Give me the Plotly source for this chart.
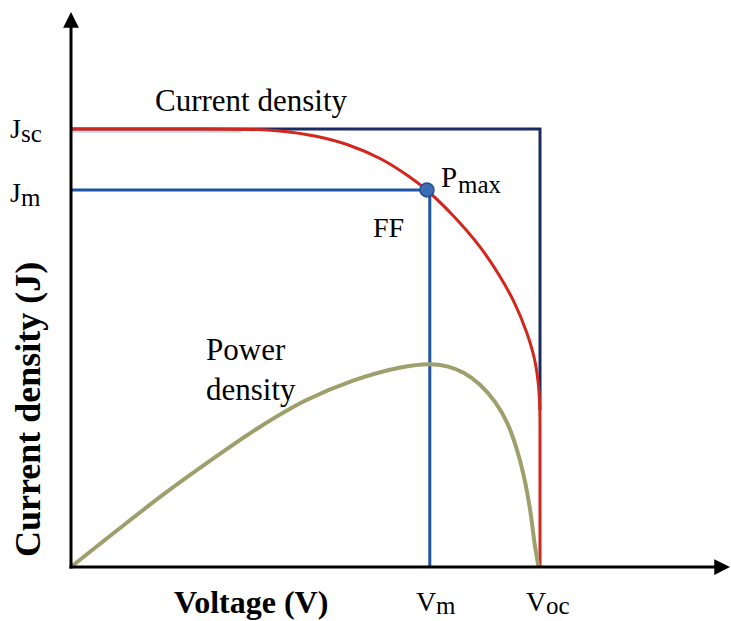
import plotly.graph_objects as go

# ---- data (normalised units: Voc = 1, Jsc = 1) ----
J_SC = 1.0
V_OC = 1.0
V_M = 0.765
J_M = 0.861

jv_voltage = [0.000, 0.250, 0.380, 0.450, 0.520, 0.590, 0.660, 0.720, 0.760, 0.815,
              0.872, 0.913, 0.946, 0.971, 0.988, 0.996, 0.9996, 1.000, 1.000]
jv_current = [1.000, 1.000, 0.999, 0.995, 0.984, 0.964, 0.932, 0.892, 0.859, 0.802,
              0.731, 0.666, 0.602, 0.537, 0.476, 0.422, 0.363, 0.295, 0.000]

pw_voltage = [0.000, 0.100, 0.200, 0.300, 0.400, 0.500, 0.600, 0.700, 0.765, 0.802,
              0.838, 0.872, 0.904, 0.930, 0.949, 0.966, 0.979, 0.989, 0.997]
pw_power = [0.000, 0.085, 0.168, 0.245, 0.318, 0.380, 0.425, 0.455, 0.463, 0.458,
            0.443, 0.416, 0.377, 0.329, 0.274, 0.205, 0.130, 0.050, 0.000]

RECT_BOTTOM = 0.358  # where the dark Jsc x Voc rectangle edge meets the curve

# ---- pixel <-> data mapping of the canvas (figure has zero margins) ----
W, H = 731, 621
X0_PX, XU = 71, 469      # pixel of V=0, pixels per unit
Y0_PX, YU = 567, 438     # pixel of J=0, pixels per unit


def px_x(p):
    return (p - X0_PX) / XU


def px_y(p):
    return (Y0_PX - p) / YU


RED = "#d3261c"
NAVY = "#1c2a63"
BLUE = "#1f55a3"
OLIVE = "#9e9f6c"
FONT = "Liberation Serif, Times New Roman, serif"

fig = go.Figure()

# dark rectangle Jsc x Voc
fig.add_trace(go.Scatter(x=[0, V_OC, V_OC], y=[J_SC, J_SC, RECT_BOTTOM], mode="lines",
                         line=dict(color=NAVY, width=3), hoverinfo="skip"))
# faint shadow under the flat part
fig.add_trace(go.Scatter(x=[0, jv_voltage[1] * 1.45], y=[J_SC - 0.006, J_SC - 0.006],
                         mode="lines", line=dict(color="rgba(150,175,185,0.5)", width=2),
                         hoverinfo="skip"))
# Jm / Vm rectangle
fig.add_trace(go.Scatter(x=[0, V_M, V_M], y=[J_M, J_M, 0], mode="lines",
                         line=dict(color=BLUE, width=3), hoverinfo="skip"))
# J-V curve
fig.add_trace(go.Scatter(x=jv_voltage, y=jv_current, mode="lines",
                         line=dict(color=RED, width=3, shape="spline", smoothing=0.8),
                         hoverinfo="skip"))
# power curve
fig.add_trace(go.Scatter(x=pw_voltage, y=pw_power, mode="lines",
                         line=dict(color=OLIVE, width=4, shape="spline", smoothing=1.0),
                         hoverinfo="skip"))
# Pmax marker
fig.add_trace(go.Scatter(x=[V_M - 0.006], y=[J_M], mode="markers",
                         marker=dict(color="#3d6db4", size=14,
                                     line=dict(color="#1f4f92", width=1.5)),
                         hoverinfo="skip"))

ann = []
# axes with arrows
ann.append(dict(x=px_x(730), y=0, ax=px_x(68), ay=0, xref="x", yref="y", axref="x", ayref="y",
                text="", showarrow=True, arrowhead=2, arrowsize=1.05, arrowwidth=3,
                arrowcolor="black"))
ann.append(dict(x=0, y=px_y(12), ax=0, ay=px_y(570), xref="x", yref="y", axref="x", ayref="y",
                text="", showarrow=True, arrowhead=2, arrowsize=1.05, arrowwidth=3,
                arrowcolor="black"))


def label(text, xp, yp, size, xanchor="center", bold=False, angle=0, align="center"):
    ann.append(dict(x=px_x(xp), y=px_y(yp), xref="x", yref="y", text=text,
                    showarrow=False, xanchor=xanchor, yanchor="middle",
                    textangle=angle, align=align, borderpad=0,
                    font=dict(family=FONT, size=size, color="black",
                              weight="bold" if bold else "normal")))


label("Current density", 251, 100, 31)
label("Power<br>density", 205, 369, 31, xanchor="left", align="left")
label("FF", 388, 227, 28)
label("P", 440, 177, 29, xanchor="left")
label("max", 457, 184, 25, xanchor="left")
label("J", 9, 128, 28, xanchor="left")
label("sc", 20, 133, 25, xanchor="left")
label("J", 9, 192, 28, xanchor="left")
label("m", 20, 197, 25, xanchor="left")
label("V", 415, 601, 28, xanchor="left")
label("m", 435, 605, 25, xanchor="left")
label("V", 525, 601, 28, xanchor="left")
label("oc", 545, 605, 25, xanchor="left")
label("Voltage (V)", 251, 602, 32, bold=True)
label("Current density (J)", 28, 410, 36, bold=True, angle=-90)

fig.update_layout(
    width=W, height=H, margin=dict(l=0, r=0, t=0, b=0),
    paper_bgcolor="white", plot_bgcolor="white", showlegend=False,
    xaxis=dict(range=[px_x(0), px_x(W)], visible=False, fixedrange=True),
    yaxis=dict(range=[px_y(H), px_y(0)], visible=False, fixedrange=True),
    annotations=ann,
)

fig.write_html("out.html", config={"displayModeBar": False},
               post_script="document.body.style.margin='0';document.body.style.overflow='hidden';")
